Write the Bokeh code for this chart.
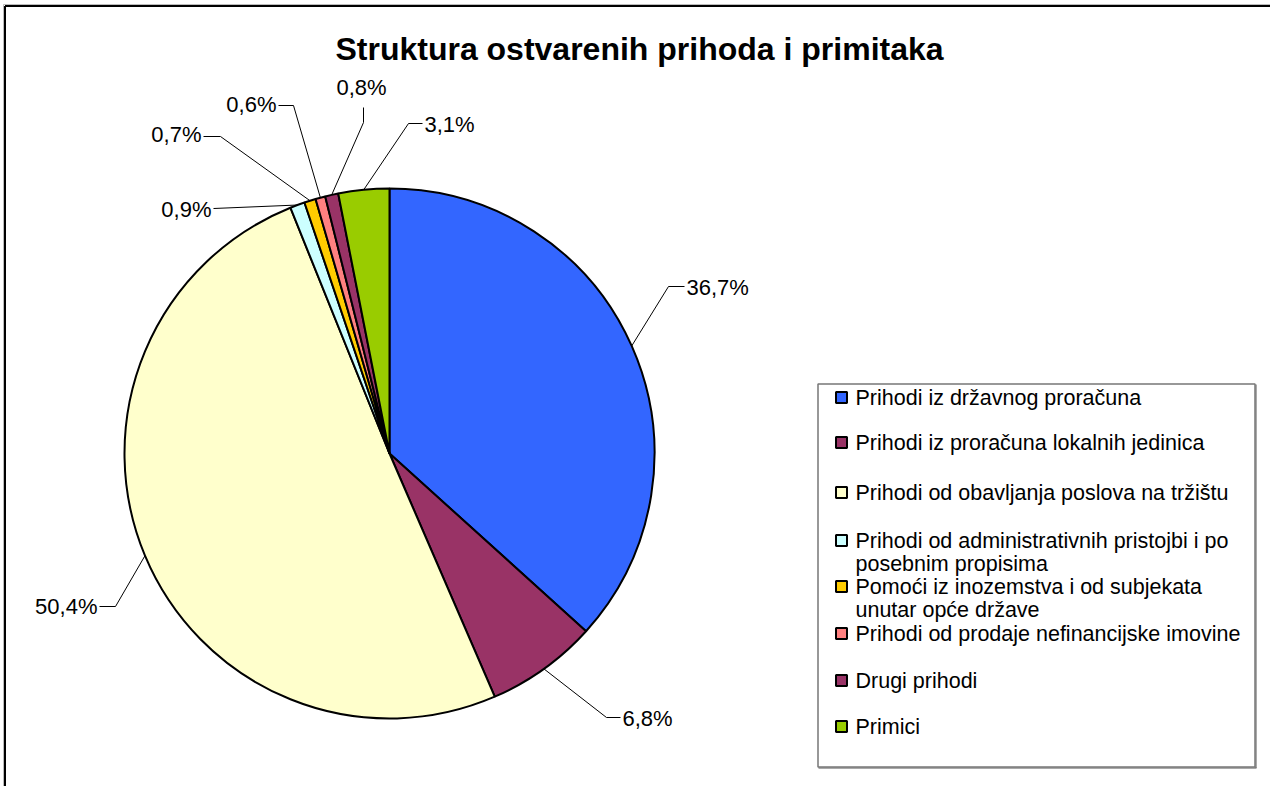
import numpy as np
from bokeh.plotting import figure
from bokeh.models import Range1d, ColumnDataSource
from bokeh.embed import file_html
from bokeh.resources import INLINE
from bokeh.core.properties import value

# ---------------- data ----------------
title = "Struktura ostvarenih prihoda i primitaka"
categories = [
    "Prihodi iz državnog proračuna",
    "Prihodi iz proračuna lokalnih jedinica",
    "Prihodi od obavljanja poslova na tržištu",
    "Prihodi od administrativnih pristojbi i po\nposebnim propisima",
    "Pomoći iz inozemstva i od subjekata\nunutar opće države",
    "Prihodi od prodaje nefinancijske imovine",
    "Drugi prihodi",
    "Primici",
]
shares = [36.7, 6.8, 50.4, 0.9, 0.7, 0.6, 0.8, 3.1]
colors = ["#3366FF", "#993366", "#FFFFCC", "#CCFFFF",
          "#FFCC00", "#FF8080", "#993366", "#99CC00"]

# ---------------- layout (screen pixels) ----------------
FONT = "Liberation Sans"
OX, OY = 0, 0          # where the canvas lands on the page
W, H = 1270, 786
def Y(sy):  # screen y -> data y
    return 1000 - sy

CX, CY, R = 389, 453, 265
# label layout: elbow point, end of leader, text anchor, alignment
elbows = [(668, 286), (606, 717), (115, 606), (213, 208), (220, 136), (293, 105), (363, 122), (408, 123)]
ends = [(684, 286), (620, 717), (99, 606), (213, 208), (203, 136), (278, 105), (363, 107), (422, 123)]
anchors = [(686, 287), (622, 718), (97, 606), (211, 209), (201, 134), (276, 104), (361, 87), (424, 124)]
aligns = ["left", "left", "right", "right", "right", "right", "center", "left"]

p = figure(width=W, height=H, output_backend="svg", toolbar_location=None,
           x_range=Range1d(OX, OX + W), y_range=Range1d(Y(OY + H), Y(OY)),
           min_border=0, background_fill_color="white", border_fill_color="white")
p.axis.visible = False
p.grid.visible = False
p.outline_line_color = None

# page frame (top and left edges visible), with a soft gray edge outside
p.segment(x0=[3, 3], y0=[Y(4), Y(4)], x1=[OX + W, 3], y1=[Y(4), Y(OY + H)],
          line_color="#bbbbbb", line_width=1)
p.segment(x0=[4.5, 4.5], y0=[Y(5.5), Y(5.5)], x1=[OX + W, 4.5], y1=[Y(5.5), Y(OY + H)],
          line_color="black", line_width=2)

# pie
frac = np.array(shares) / sum(shares)
cum = np.concatenate([[0], np.cumsum(frac)])
start = np.pi / 2 - 2 * np.pi * cum[1:]
end = np.pi / 2 - 2 * np.pi * cum[:-1]
src = ColumnDataSource(dict(start=start, end=end, color=colors))
p.wedge(x=CX, y=Y(CY), radius=R, start_angle="start", end_angle="end",
        fill_color="color", line_color="black", line_width=2, source=src)

# leader lines + labels
mid = np.pi / 2 - 2 * np.pi * (cum[:-1] + cum[1:]) / 2
ex = CX + R * np.cos(mid)
ey = CY - R * np.sin(mid)
xs, ys = [], []
for i in range(len(shares)):
    xs.append([ex[i], elbows[i][0], ends[i][0]])
    ys.append([Y(ey[i]), Y(elbows[i][1]), Y(ends[i][1])])
p.multi_line(xs=xs, ys=ys, line_color="black", line_width=1)

labels = [f"{v:.1f}".replace(".", ",") + "%" for v in shares]
for i, lab in enumerate(labels):
    p.text(x=[anchors[i][0]], y=[Y(anchors[i][1])], text=[lab],
           text_font=value(FONT), text_font_size="22px",
           text_align=aligns[i], text_baseline="middle", text_color="black")

# title
p.text(x=[639], y=[Y(48)], text=[title], text_font=value(FONT),
       text_font_size="32px", text_font_style="bold",
       text_align="center", text_baseline="middle", text_color="black")

# legend box with a small shadow on right/bottom
p.segment(x0=[1255.5, 818], y0=[Y(384), Y(767.5)], x1=[1255.5, 1256], y1=[Y(767.5), Y(767.5)],
          line_color="#555555", line_width=1)
p.quad(left=[817.5], right=[1254.5], top=[Y(383.5)], bottom=[Y(766.5)],
       fill_color="white", line_color="#777777", line_width=1.5)
row_y = [397, 442, 492, 540, 586, 633, 680, 726]
p.rect(x=[841] * len(row_y), y=[Y(v) for v in row_y], width=11, height=11,
       fill_color=colors, line_color="black", line_width=2)
tx, ty, tt = [], [], []
for cat, ry in zip(categories, row_y):
    for k, line in enumerate(cat.split("\n")):
        tx.append(855)
        ty.append(Y(ry + 23 * k))
        tt.append(line)
p.text(x=tx, y=ty, text=tt, text_font=value(FONT), text_font_size="21.5px",
       text_align="left", text_baseline="middle", text_color="black")

open("out.html", "w").write(file_html(p, INLINE))
